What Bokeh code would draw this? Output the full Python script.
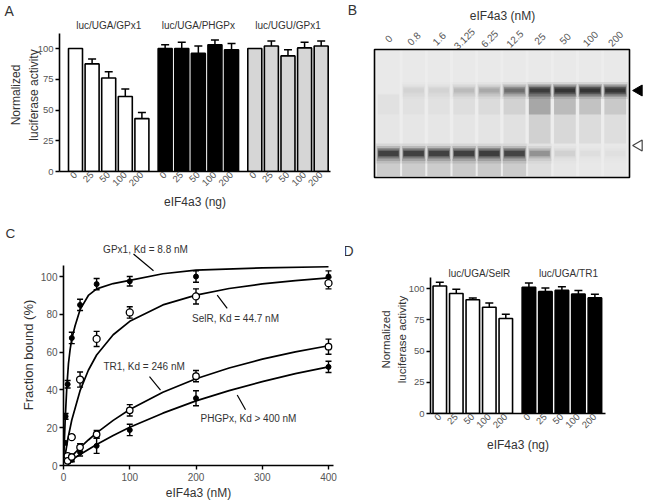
import math
from bokeh.plotting import figure
from bokeh.models import (ColumnDataSource, Range1d, FixedTicker, Label, Whisker, TeeHead,
                          LinearAxis)
from bokeh.layouts import column, row
from bokeh.embed import file_html
from bokeh.resources import INLINE
from bokeh.core.properties import value

FONT = "Liberation Sans"
INK = "#333333"
TICK_INK = "#555555"

# ---------------- Panel A data ----------------
a_groups = ["luc/UGA/GPx1", "luc/UGA/PHGPx", "luc/UGU/GPx1"]
a_doses = ["0", "25", "50", "100", "200"]
a_gpx1 = [100, 87.5, 76, 61, 43]
a_gpx1_err = [0, 4, 5, 6, 5]
a_phgpx = [100, 100, 96, 103, 99]
a_phgpx_err = [3, 5, 6, 4, 5]
a_ugu = [100, 102, 94, 100.5, 102]
a_ugu_err = [0, 4, 5, 4.5, 4]
a_yticks = [0, 25, 50, 75, 100]

# ---------------- Panel B data (gel) ----------------
b_lanes = ["0", "0.8", "1.6", "3.125", "6.25", "12.5", "25", "50", "100", "200"]
b_bound = [0.0, 0.06, 0.06, 0.15, 0.22, 0.5, 0.88, 0.95, 0.95, 0.95]
b_free = [0.84, 0.84, 0.84, 0.85, 0.88, 0.8, 0.32, 0.07, 0.03, 0.02]
b_smear = [0.02, 0.02, 0.02, 0.03, 0.04, 0.07, 0.22, 0.15, 0.12, 0.10]

# ---------------- Panel C data ----------------
c_conc = [0, 0.8, 1.6, 3.125, 6.25, 12.5, 25, 50, 100, 200, 400]
c_gpx1 = [0, 5, 12, 26, 43, 67.5, 85, 96, 97.5, 100, 100]
c_gpx1_err = [0, 1, 1, 1.5, 2, 3, 3, 3, 2.5, 3, 3]
c_selr = [0, 1, 2, 3, 5, 15, 45.5, 67, 81, 89.5, 96.5]
c_selr_err = [0, 0, 0, 0, 1, 1, 4, 4, 3, 4, 3]
c_tr1 = [0, 0.5, 1, 1.5, 2.5, 4.5, 9.6, 16.5, 29.2, 47.3, 62.9]
c_tr1_err = [0, 0, 0, 0, 1, 1, 2, 2, 3, 3, 4]
c_phgpx = [0, 0.5, 1, 1.5, 2, 3, 7, 10.4, 18.8, 35.6, 52.2]
c_phgpx_err = [0, 0, 0, 0, 1, 1, 2, 4, 3, 4, 3]
c_fit_x_gpx1 = [0, 2.5, 5, 7.5, 10, 12.5, 17.5, 25, 37.5, 50, 75, 100, 150, 200, 300, 400]
c_fit_gpx1 = [0, 24, 41.5, 54, 61.5, 67, 74, 82.5, 90, 93.5, 96.3, 98, 101.5, 103.4, 104.6, 105.2]
c_fit_x = [0, 6.25, 12.5, 25, 37.5, 50, 75, 100, 150, 200, 250, 300, 350, 400]
c_fit_selr = [0, 13.5, 24.1, 39.6, 50.4, 58.5, 69.2, 76.3, 85.0, 90.2, 93.7, 96.1, 97.9, 99.3]
c_fit_tr1 = [0, 2.5, 4.95, 9.4, 13.5, 17.3, 23.9, 29.6, 38.8, 45.9, 51.6, 56.3, 60.1, 63.4]
c_fit_phgpx = [0, 1.5, 3.0, 5.8, 8.5, 11.1, 15.9, 20.2, 27.7, 34.2, 39.6, 44.4, 48.6, 52.2]
c_xticks = [0, 100, 200, 300, 400]
c_yticks = [0, 20, 40, 60, 80, 100]

# ---------------- Panel D data ----------------
d_groups = ["luc/UGA/SelR", "luc/UGA/TR1"]
d_doses = ["0", "25", "50", "100", "200"]
d_selr = [102, 96, 91, 85, 76]
d_selr_err = [3, 3.5, 1.5, 3.5, 3.5]
d_tr1 = [101, 97.5, 98.5, 95.5, 92.5]
d_tr1_err = [3.5, 3, 3, 3, 3]

# styles
A_FILLS = ["white", "black", "#d6d6d6"]
D_FILLS = ["white", "black"]
GROUP_STEP = 54   # bar slots: 10 units per bar
BAR_STEP = 10


def style_axes(p, xticks_out=0, tick_size="10px"):
    for ax in p.xaxis + p.yaxis:
        ax.axis_line_color = "black"
        ax.axis_line_width = 1.6
        ax.major_tick_line_color = "black"
        ax.major_tick_line_width = 1.4
        ax.major_tick_out = 4
        ax.major_tick_in = 0
        ax.minor_tick_out = 0
        ax.minor_tick_in = 0
        ax.major_label_text_font = FONT
        ax.major_label_text_font_size = tick_size
        ax.major_label_text_color = TICK_INK
        ax.major_label_standoff = 2
        ax.axis_label_text_font = FONT
        ax.axis_label_text_font_style = "normal"
        ax.axis_label_text_color = INK
        ax.axis_label_text_font_size = "12px"
        ax.axis_label_standoff = 2
    for ax in p.xaxis:
        ax.major_tick_out = xticks_out
    p.grid.visible = False
    p.outline_line_color = None


def title_axis(p, side, text, center, half, size="12px", standoff=2):
    ax = LinearAxis(ticker=FixedTicker(ticks=[]), axis_label=text, bounds=(center - half, center + half),
                    axis_line_color=None, major_tick_out=0, major_tick_in=0,
                    minor_tick_out=0, minor_tick_in=0, axis_label_text_font=FONT,
                    axis_label_text_font_style="normal", axis_label_text_color=INK,
                    axis_label_text_font_size=size, axis_label_standoff=standoff,
                    major_label_standoff=0)
    p.add_layout(ax, side)


def letter(p, text, offset, standoff, size="14px"):
    p.title.text = text
    p.title.align = "left"
    p.title.offset = offset
    p.title.standoff = standoff
    p.title.text_font = FONT
    p.title.text_font_size = size
    p.title.text_font_style = "normal"
    p.title.text_color = INK


def lab(p, x, y, text, size="10px", angle=0, align="center", baseline="middle", color=INK):
    p.add_layout(Label(x=x, y=y, text=text, angle=angle, text_align=align,
                       text_baseline=baseline, text_font=FONT, text_font_size=size,
                       text_color=color))


def draw_bars(p, series, errs, fills, doses, bar_w):
    xs, tops, cols, ex, elo, ehi = [], [], [], [], [], []
    ticks, overrides = [], {}
    for g, (vals, ers, fc) in enumerate(zip(series, errs, fills)):
        for i, (v, e) in enumerate(zip(vals, ers)):
            x = g * GROUP_STEP + i * BAR_STEP
            xs.append(x); tops.append(v); cols.append(fc)
            ticks.append(x); overrides[x] = doses[i]
            if e > 0:
                ex.append(x); elo.append(v); ehi.append(v + e)
    esrc = ColumnDataSource(dict(x=ex, lo=elo, hi=ehi))
    p.add_layout(Whisker(base="x", lower="lo", upper="hi", source=esrc, line_width=1.5,
                         line_color="black", lower_head=None,
                         upper_head=TeeHead(size=8, line_width=1.5, line_color="black")))
    src = ColumnDataSource(dict(x=xs, top=tops, fill=cols))
    p.vbar(x="x", top="top", bottom=0, width=bar_w, fill_color="fill",
           line_color="black", line_width=1.6, source=src)
    p.xaxis.ticker = FixedTicker(ticks=ticks)
    p.xaxis.major_label_overrides = overrides
    p.xaxis.major_label_orientation = math.pi / 4


ROW1_H = 220
ROW2_H = 282

# ======================= Panel A =======================
def ax_(px): return (px - 75) / 1.66
def ay_(py): return (171 - py) / 1.23

pA = figure(width=340, height=ROW1_H, x_range=Range1d(ax_(59), ax_(330)), y_range=Range1d(0, ay_(18)),
            min_border_left=59, min_border_right=10, min_border_top=18, min_border_bottom=ROW1_H - 171,
            output_backend="svg", toolbar_location=None, frame_align=False)
draw_bars(pA, [a_gpx1, a_phgpx, a_ugu], [a_gpx1_err, a_phgpx_err, a_ugu_err], A_FILLS, a_doses, 14 / 1.66)
style_axes(pA, tick_size="9.5px")
pA.yaxis.ticker = FixedTicker(ticks=a_yticks)
pA.yaxis.bounds = (0, ay_(33))
title_axis(pA, "left", "luciferase activity", ay_(116), 30, standoff=-6)
title_axis(pA, "left", "Normalized", ay_(118), 30, standoff=1)
title_axis(pA, "below", "eIF4a3 (ng)", ax_(182), 40, standoff=3)
for g, name in enumerate(a_groups):
    lab(pA, g * GROUP_STEP + 2 * BAR_STEP, ay_(25), name, "10px")
letter(pA, "A", -55, 0)

# ======================= Panel B (gel) =======================
def bx(px): return (px - 388) / 25.2
def by(py): return 177 - py

pB = figure(width=304, height=ROW1_H, x_range=Range1d(bx(340), bx(644)), y_range=Range1d(by(ROW1_H), by(0)),
            min_border=0, x_axis_location=None, y_axis_location=None,
            output_backend="svg", toolbar_location=None, frame_align=False)
pB.outline_line_color = None
pB.grid.visible = False
pB.rect(x=(bx(374) + bx(629)) / 2, y=(by(177) + by(49)) / 2, width=bx(629) - bx(374),
        height=by(49) - by(177), fill_color="#ededed", line_color="black", line_width=1.6)
lanes = list(range(len(b_lanes)))


def layer(p, yc, h, w, alphas):
    src = ColumnDataSource(dict(x=lanes, y=[yc] * len(lanes), a=alphas))
    p.rect(x="x", y="y", width=w, height=h, fill_color="#111111", fill_alpha="a",
           line_color=None, source=src)

# lane streaks and smears
layer(pB, by(113), 126, 0.9, [0.015] * len(lanes))
layer(pB, by(104), 20, 0.86, b_smear)
layer(pB, by(118), 50, 0.86, [s * 0.5 for s in b_smear])
layer(pB, by(167), 17, 0.92, [f * 0.16 for f in b_free])
# free (lower) band
for w, h, f in [(1.0, 20, 0.1), (0.94, 15, 0.18), (0.88, 11, 0.3), (0.84, 8, 0.4), (0.8, 5, 0.5)]:
    layer(pB, by(153), h, w, [v * f for v in b_free])
# bound (upper) band
for w, h, f in [(1.0, 17, 0.1), (0.94, 13, 0.18), (0.88, 10, 0.3), (0.84, 7, 0.4), (0.8, 4, 0.5)]:
    layer(pB, by(90), h, w, [v * f for v in b_bound])

pB.text(x=lanes, y=[by(38)] * len(lanes), text=b_lanes, angle=math.pi / 4,
        text_align="center", text_baseline="middle", text_font=value(FONT),
        text_font_size="10px", text_color=TICK_INK)
pB.scatter(x=[bx(638.5)], y=[by(90)], marker="triangle", angle=math.pi / 2, size=11,
           fill_color="black", line_color="black")
pB.scatter(x=[bx(638.5)], y=[by(145)], marker="triangle", angle=math.pi / 2, size=11,
           fill_color="white", line_color="#444444", line_width=1.2)
lab(pB, bx(502), by(15), "eIF4a3 (nM)", "12px")
lab(pB, bx(352), by(1), "B", "14px", baseline="top")

# ======================= Panel C =======================
def cx(px): return (px - 63) / 0.6625
def cy(py): return (468.5 - py) / 1.925

C_TOP = 24
C_FRAME_H = 224
pC = figure(width=345, height=ROW2_H, x_range=Range1d(0, cx(333)), y_range=Range1d(0, C_FRAME_H / 1.915),
            min_border_left=63, min_border_right=12, min_border_top=C_TOP,
            min_border_bottom=ROW2_H - C_TOP - C_FRAME_H,
            output_backend="svg", toolbar_location=None, frame_align=False)
style_axes(pC, xticks_out=4)
pC.xaxis.ticker = FixedTicker(ticks=c_xticks)
pC.yaxis.ticker = FixedTicker(ticks=c_yticks)
pC.yaxis.bounds = (0, cy(265))
pC.xaxis.major_label_standoff = 3
pC.xaxis.axis_label = "eIF4a3 (nM)"
pC.xaxis.axis_label_standoff = 2
pC.yaxis.axis_label = "Fraction bound (%)"
pC.yaxis.axis_label_text_font_size = "13px"
pC.yaxis.axis_label_standoff = 2

ex, elo, ehi = [], [], []
for ys, es in [(c_gpx1, c_gpx1_err), (c_selr, c_selr_err), (c_tr1, c_tr1_err), (c_phgpx, c_phgpx_err)]:
    for x, y, e in zip(c_conc, ys, es):
        if e > 0:
            ex.append(x); elo.append(y - e); ehi.append(y + e)
pC.add_layout(Whisker(base="x", lower="lo", upper="hi", source=ColumnDataSource(dict(x=ex, lo=elo, hi=ehi)),
                      line_width=1.4, line_color="black",
                      upper_head=TeeHead(size=6, line_width=1.4, line_color="black"),
                      lower_head=TeeHead(size=6, line_width=1.4, line_color="black")))
for fx, fy in [(c_fit_x_gpx1, c_fit_gpx1), (c_fit_x, c_fit_selr), (c_fit_x, c_fit_tr1), (c_fit_x, c_fit_phgpx)]:
    pC.line(fx, fy, line_color="black", line_width=1.7)
pC.scatter(c_conc, c_gpx1, marker="circle", size=5, fill_color="black", line_color="black")
pC.scatter(c_conc, c_phgpx, marker="circle", size=5, fill_color="black", line_color="black")
pC.scatter(c_conc, c_selr, marker="circle", size=7, fill_color="white", line_color="black", line_width=1.3)
pC.scatter(c_conc, c_tr1, marker="circle", size=6.5, fill_color="white", line_color="black", line_width=1.3)

pC.segment(x0=[cx(133), cx(216.7), cx(149), cx(236.7)], y0=[cy(253), cy(295), cy(378), cy(396.7)],
           x1=[cx(153), cx(226.7), cx(160), cx(245)], y1=[cy(270), cy(308.3), cy(391.7), cy(411.7)],
           line_color="black", line_width=1.2)
lab(pC, cx(145), cy(248), "GPx1, Kd = 8.8 nM")
lab(pC, cx(235), cy(319), "SelR, Kd = 44.7 nM")
lab(pC, cx(145), cy(368), "TR1, Kd =  246 nM")
lab(pC, cx(248), cy(421), "PHGPx, Kd > 400 nM")
letter(pC, "C", -58, 7, size="13.5px")

# ======================= Panel D =======================
def dx(px): return (px - 439.3) / 1.65
def dy(py): return (413.3 - py) / 1.25

D_TOP = 265 - ROW1_H
pD = figure(width=299, height=ROW2_H, x_range=Range1d(dx(430), dx(605)), y_range=Range1d(0, 148 / 1.25),
            min_border_left=85, min_border_right=39, min_border_top=D_TOP,
            min_border_bottom=ROW2_H - D_TOP - 148,
            output_backend="svg", toolbar_location=None, frame_align=False)
draw_bars(pD, [d_selr, d_tr1], [d_selr_err, d_tr1_err], D_FILLS, d_doses, 13.5 / 1.65)
style_axes(pD, tick_size="9.5px")
pD.yaxis.ticker = FixedTicker(ticks=a_yticks)
pD.yaxis.bounds = (0, dy(277))
pD.xaxis.axis_label = "eIF4a3 (ng)"
pD.xaxis.axis_label_standoff = 4
title_axis(pD, "left", "luciferase activity", dy(351), 30, size="11.5px", standoff=-2)
title_axis(pD, "left", "Normalized", dy(350), 30, size="11.5px", standoff=1)
for g, name in enumerate(d_groups):
    lab(pD, g * GROUP_STEP + 2 * BAR_STEP + 4, dy(273), name, "10px")
letter(pD, "D", -87, 14)

layout = column(row(pA, pB), row(pC, pD))
open("out.html", "w").write(file_html(layout, INLINE))
